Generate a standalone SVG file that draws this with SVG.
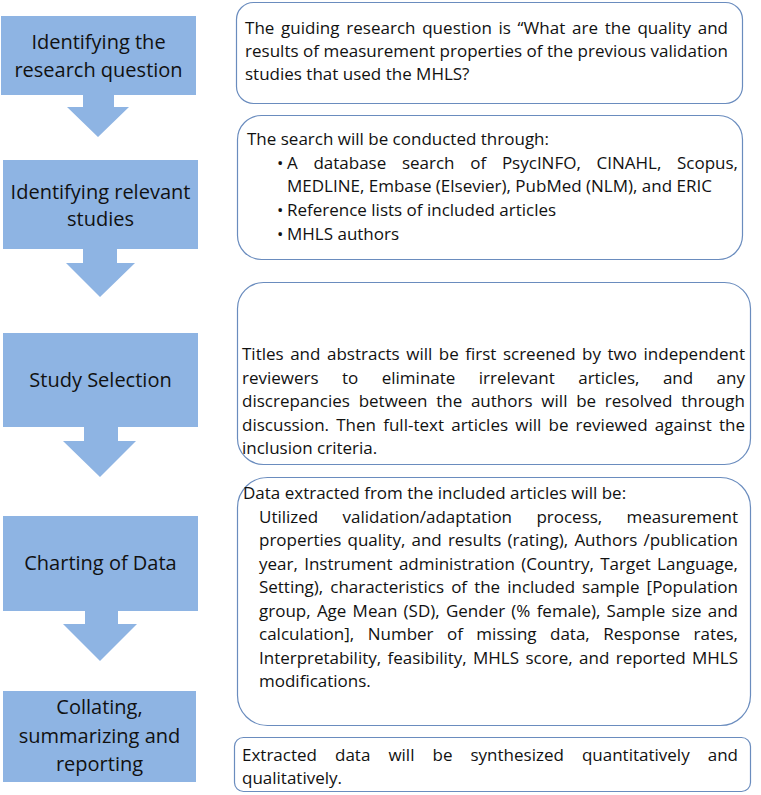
<svg xmlns="http://www.w3.org/2000/svg" width="761" height="795" viewBox="0 0 761 795">
<style>
.step{fill:#8EB4E3;}
.arr{fill:#8EB4E3;}
.lbl{font-family:"Open Sans","Noto Sans",sans-serif;font-size:20px;fill:#111;text-anchor:middle;}
.box{fill:#fff;stroke:#6A8CBE;stroke-width:1.2;}
.t{font-family:"Open Sans","Noto Sans",sans-serif;font-size:17px;fill:#111;}
</style>
<rect width="761" height="795" fill="#fff"/>
<g id="connectors">
<polygon class="arr" points="83,95 114,95 114,107 129,107 98,137 67,107 83,107"/>
<polygon class="arr" points="83,249 117,249 117,263 135,263 100,297 66,263 83,263"/>
<polygon class="arr" points="84,427 118,427 118,441 136,441 100,477 63,441 84,441"/>
<polygon class="arr" points="85,611 118,611 118,624 137,624 100,661 63,624 85,624"/>
</g>
<g id="step1">
<rect class="step" x="1" y="16" width="195" height="79"/>
<text class="lbl" x="98.5" y="49">Identifying the</text>
<text class="lbl" x="98.5" y="77">research question</text>
</g>
<g id="step2">
<rect class="step" x="3" y="160" width="195" height="89"/>
<text class="lbl" x="100.5" y="199">Identifying relevant</text>
<text class="lbl" x="100.5" y="226">studies</text>
</g>
<g id="step3">
<rect class="step" x="3" y="333" width="195" height="94"/>
<text class="lbl" x="100.5" y="387">Study Selection</text>
</g>
<g id="step4">
<rect class="step" x="3" y="516" width="195" height="95"/>
<text class="lbl" x="100.5" y="570">Charting of Data</text>
</g>
<g id="step5">
<rect class="step" x="3" y="691" width="193" height="91"/>
<text class="lbl" x="99.5" y="714">Collating,</text>
<text class="lbl" x="99.5" y="743">summarizing and</text>
<text class="lbl" x="99.5" y="771">reporting</text>
</g>
<g id="desc1">
<rect class="box" x="236.5" y="2.5" width="506" height="101" rx="17"/>
<text class="t" x="245" y="34" word-spacing="2.2" textLength="483" lengthAdjust="spacing">The guiding research question is “What are the quality and</text>
<text class="t" x="245" y="57" textLength="483" lengthAdjust="spacing">results of measurement properties of the previous validation</text>
<text class="t" x="245" y="80">studies that used the MHLS?</text>
</g>
<g id="desc2">
<rect class="box" x="237.5" y="115.5" width="505" height="144" rx="24"/>
<text class="t" x="247" y="145">The search will be conducted through:</text>
<text class="t" x="277" y="169">•</text>
<text class="t" x="287" y="169" word-spacing="11.3" textLength="451" lengthAdjust="spacing">A database search of PsycINFO, CINAHL, Scopus,</text>
<text class="t" x="287" y="192">MEDLINE, Embase (Elsevier), PubMed (NLM), and ERIC</text>
<text class="t" x="277" y="216">•</text>
<text class="t" x="287" y="216">Reference lists of included articles</text>
<text class="t" x="277" y="240">•</text>
<text class="t" x="287" y="240">MHLS authors</text>
</g>
<g id="desc3">
<rect class="box" x="237.5" y="282.5" width="513" height="182" rx="26"/>
<text class="t" x="242" y="360" word-spacing="2.1" textLength="503" lengthAdjust="spacing">Titles and abstracts will be first screened by two independent</text>
<text class="t" x="242" y="383.5" word-spacing="19" textLength="503" lengthAdjust="spacing">reviewers to eliminate irrelevant articles, and any</text>
<text class="t" x="242" y="407" word-spacing="4.3" textLength="503" lengthAdjust="spacing">discrepancies between the authors will be resolved through</text>
<text class="t" x="242" y="430.5" word-spacing="2.75" textLength="503" lengthAdjust="spacing">discussion. Then full-text articles will be reviewed against the</text>
<text class="t" x="242" y="454">inclusion criteria.</text>
</g>
<g id="desc4">
<rect class="box" x="237.5" y="477.5" width="513" height="248" rx="30"/>
<text class="t" x="243" y="499">Data extracted from the included articles will be:</text>
<text class="t" x="259" y="522.5" word-spacing="20" textLength="479" lengthAdjust="spacing">Utilized validation/adaptation process, measurement</text>
<text class="t" x="259" y="546" word-spacing="1.75" textLength="479" lengthAdjust="spacing">properties quality, and results (rating), Authors /publication</text>
<text class="t" x="259" y="569.5" word-spacing="2" textLength="479" lengthAdjust="spacing">year, Instrument administration (Country, Target Language,</text>
<text class="t" x="259" y="593" word-spacing="2.7" textLength="479" lengthAdjust="spacing">Setting), characteristics of the included sample [Population</text>
<text class="t" x="259" y="616.5" word-spacing="1.8" textLength="479" lengthAdjust="spacing">group, Age Mean (SD), Gender (% female), Sample size and</text>
<text class="t" x="259" y="640" word-spacing="9" textLength="479" lengthAdjust="spacing">calculation], Number of missing data, Response rates,</text>
<text class="t" x="259" y="663.5" word-spacing="2" textLength="479" lengthAdjust="spacing">Interpretability, feasibility, MHLS score, and reported MHLS</text>
<text class="t" x="259" y="687">modifications.</text>
</g>
<g id="desc5">
<rect class="box" x="234.5" y="737.5" width="516" height="54" rx="9"/>
<text class="t" x="242" y="761" word-spacing="13.6" textLength="496" lengthAdjust="spacing">Extracted data will be synthesized quantitatively and</text>
<text class="t" x="242" y="784">qualitatively.</text>
</g>
</svg>
